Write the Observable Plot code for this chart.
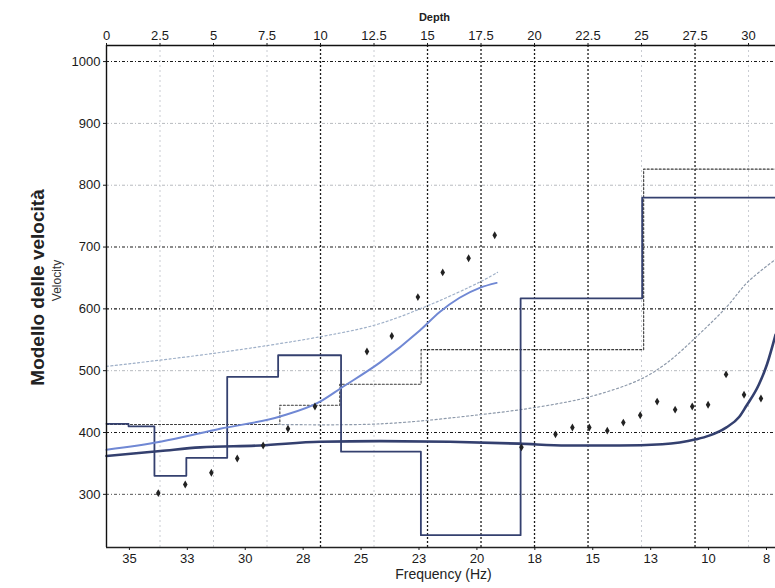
<!DOCTYPE html>
<html><head><meta charset="utf-8">
<script src="https://cdn.jsdelivr.net/npm/d3@7"></script>
<script src="https://cdn.jsdelivr.net/npm/@observablehq/plot@0.6"></script>
<style>
html,body{margin:0;padding:0;background:#fff;}
#wrap{position:relative;width:775px;height:588px;overflow:hidden;}
</style></head><body><div id="wrap"></div>
<script>
// ---------- axes ----------
const depthTicks = [0, 2.5, 5, 7.5, 10, 12.5, 15, 17.5, 20, 22.5, 25, 27.5, 30];
const darkGridDepths = [10, 15, 17.5, 20, 22.5, 27.5];
const lightGridDepths = [2.5, 5, 7.5, 12.5, 25, 30];
const velocityTicks = [300, 400, 500, 600, 700, 800, 900, 1000];
const darkGridVel = [1000, 700, 600, 400];
const midGridVel = [300];
const lightGridVel = [900, 800, 500];
const freqTicks = [35.5, 33, 30.5, 28, 25.5, 23, 20.5, 18, 15.5, 13, 10.5, 8];
const freqLabels = ["35", "33", "30", "28", "25", "23", "20", "18", "15", "13", "10", "8"];

// ---------- final velocity model (layer top depth, Vs) ----------
const layerTop = [0, 1.03, 2.24, 3.73, 5.64, 8.02, 10.96, 14.69, 19.35, 25.03];
const layerVs  = [414, 410, 330, 359, 490, 525, 369, 234, 617, 780];

// ---------- initial (dotted) model ----------
const initTop = [0, 8.1, 10.9, 14.7, 25.1];
const initVs  = [413, 444, 478, 534, 826];

// ---------- theoretical dispersion curve (dark) ----------
const theoX = [0, 2.52, 4.38, 7.18, 9.98, 12.77, 16.04, 19.3, 21.5, 23.96, 25.97, 27.55, 28.16, 28.95, 29.56, 29.88, 30.49, 30.86, 31.26];
const theoV = [362, 370, 376, 379, 385, 386, 385, 382, 379, 379, 381, 389, 395, 408, 425, 442, 478, 510, 558];

// ---------- fitted curve (light blue) ----------
const fitX = [0, 2.52, 5.31, 8.11, 9.98, 10.96, 12.77, 14.64, 15.57, 16.5, 17.44, 18.23];
const fitV = [372, 385, 406, 426, 450, 472, 513, 565, 595, 618, 634, 642];

// ---------- upper dotted curve ----------
const upX = [0, 5.0, 10.0, 12.66, 15.14, 17.48, 18.27];
const upV = [507, 528, 555, 575, 607, 644, 659];

// ---------- lower dotted curve ----------
const lowX = [8.0, 12.8, 17.5, 20.3, 22.6, 24.95, 26.2, 27.6, 29.0, 29.95, 31.26];
const lowV = [413, 414, 429, 442, 458, 486, 513, 556, 604, 643, 680];

// ---------- experimental points ----------
const obsX = [2.42, 3.68, 4.90, 6.11, 7.32, 8.48, 9.74, 12.17, 13.33, 14.55, 15.71, 16.92, 18.14, 19.39, 20.98, 21.77, 22.56, 23.40, 24.15, 24.94, 25.73, 26.57, 27.37, 28.11, 28.95, 29.79, 30.58];
const obsV = [302, 316, 335, 358, 379, 406, 442, 531, 556, 619, 659, 682, 719, 376, 397, 408, 408, 403, 416, 428, 450, 437, 442, 445, 494, 461, 455];

// ---------- layout ----------
const DEPTH_MAX = 31.26;
const V_MIN = 214, V_MAX = 1026;
const freqToDepth = d3.scaleLinear().domain([35.5, 8]).range([1.07, 30.84]);

const pts = (xs, ys) => xs.map((x, i) => ({x, y: ys[i]}));
const stepPts = (tops, vs) => [...pts(tops, vs), {x: DEPTH_MAX, y: vs[vs.length - 1]}];

const navy = "#34406f";
const FONT = "'Liberation Sans', Arial, sans-serif";

const freqDepths = freqTicks.map(f => freqToDepth(f));
const freqLabelOf = d => {
  let bi = 0, bd = Infinity;
  freqDepths.forEach((v, i) => { const dd = Math.abs(v - d); if (dd < bd) { bd = dd; bi = i; } });
  return freqLabels[bi];
};

const chart = Plot.plot({
  width: 775,
  height: 588,
  marginLeft: 106,
  marginRight: 0,
  marginTop: 45,
  marginBottom: 41,
  style: {fontFamily: FONT, fontSize: "13px", color: "#1a1a1a", background: "#fff"},
  x: {domain: [0, DEPTH_MAX], axis: null},
  y: {domain: [V_MIN, V_MAX], axis: null},
  marks: [
    // light grid
    Plot.ruleX(lightGridDepths, {stroke: "#c9ccd2", strokeDasharray: "2,3", strokeWidth: 1}),
    Plot.ruleY(lightGridVel, {stroke: "#b7babf", strokeDasharray: "3,2,1,2", strokeWidth: 1}),
    // dark grid
    Plot.ruleY(midGridVel, {stroke: "#555", strokeDasharray: "3,2,1,2", strokeWidth: 1}),
    Plot.ruleY(darkGridVel, {stroke: "#1a1a1a", strokeDasharray: "3,2,1,2", strokeWidth: 1.1}),
    Plot.ruleX(darkGridDepths, {stroke: "#1a1a1a", strokeDasharray: "2,2", strokeWidth: 1.3}),
    // initial dotted model
    Plot.line(stepPts(initTop, initVs), {x: "x", y: "y", curve: "step-after", stroke: "#3a3a3a", strokeDasharray: "2,2", strokeWidth: 1.1}),
    // bounds
    Plot.line(pts(upX, upV), {x: "x", y: "y", curve: "catmull-rom", stroke: "#9fb0c8", strokeDasharray: "2,2.5", strokeWidth: 1.2}),
    Plot.line(pts(lowX, lowV), {x: "x", y: "y", curve: "catmull-rom", stroke: "#8e9aab", strokeDasharray: "2,2.5", strokeWidth: 1.2}),
    // final model
    Plot.line(stepPts(layerTop, layerVs), {x: "x", y: "y", curve: "step-after", stroke: navy, strokeWidth: 1.8}),
    // fitted curve
    Plot.line(pts(fitX, fitV), {x: "x", y: "y", curve: "monotone-x", stroke: "#7088d4", strokeWidth: 2}),
    // theoretical curve
    Plot.line(pts(theoX, theoV), {x: "x", y: "y", curve: "monotone-x", stroke: navy, strokeWidth: 2.6}),
    // points
    Plot.dot(pts(obsX, obsV), {x: "x", y: "y", symbol: "diamond", r: 2.4, fill: "#222", stroke: "none"}),
    // frame lines
    Plot.ruleX([0], {stroke: "#111", strokeWidth: 1.4}),
    Plot.ruleY([V_MAX], {stroke: "#111", strokeWidth: 1.6}),
    Plot.ruleY([V_MIN], {stroke: "#222", strokeWidth: 1.6}),
    // axes
    Plot.axisX({anchor: "top", ticks: depthTicks, tickSize: 3, tickPadding: 3, label: null, tickFormat: d => String(d), fontSize: 13}),
    Plot.axisX({anchor: "bottom", ticks: freqDepths, tickSize: 3, tickPadding: 3, label: null, tickFormat: freqLabelOf, fontSize: 13}),
    Plot.axisY({ticks: velocityTicks, tickSize: 3, tickPadding: 3, label: null, tickFormat: d => String(d), fontSize: 13}),
    // titles
    Plot.text(["Depth"], {text: d => d, frameAnchor: "top-left", textAnchor: "middle", dx: 328, dy: -32, fontSize: 11, fontWeight: "bold", fill: "#222"}),
    Plot.text(["Frequency (Hz)"], {text: d => d, frameAnchor: "bottom-left", textAnchor: "middle", dx: 337, dy: 31, fontSize: 14, fill: "#222"}),
    Plot.text(["Velocity"], {text: d => d, frameAnchor: "left", textAnchor: "middle", dx: -49, dy: -16, rotate: -90, fontSize: 12, fill: "#333"}),
    Plot.text(["Modello delle velocità"], {text: d => d, frameAnchor: "left", textAnchor: "middle", dx: -69, dy: -9, rotate: -90, fontSize: 19, fontWeight: "bold", fill: "#222"})
  ]
});
document.getElementById("wrap").appendChild(chart);
</script></body></html>
